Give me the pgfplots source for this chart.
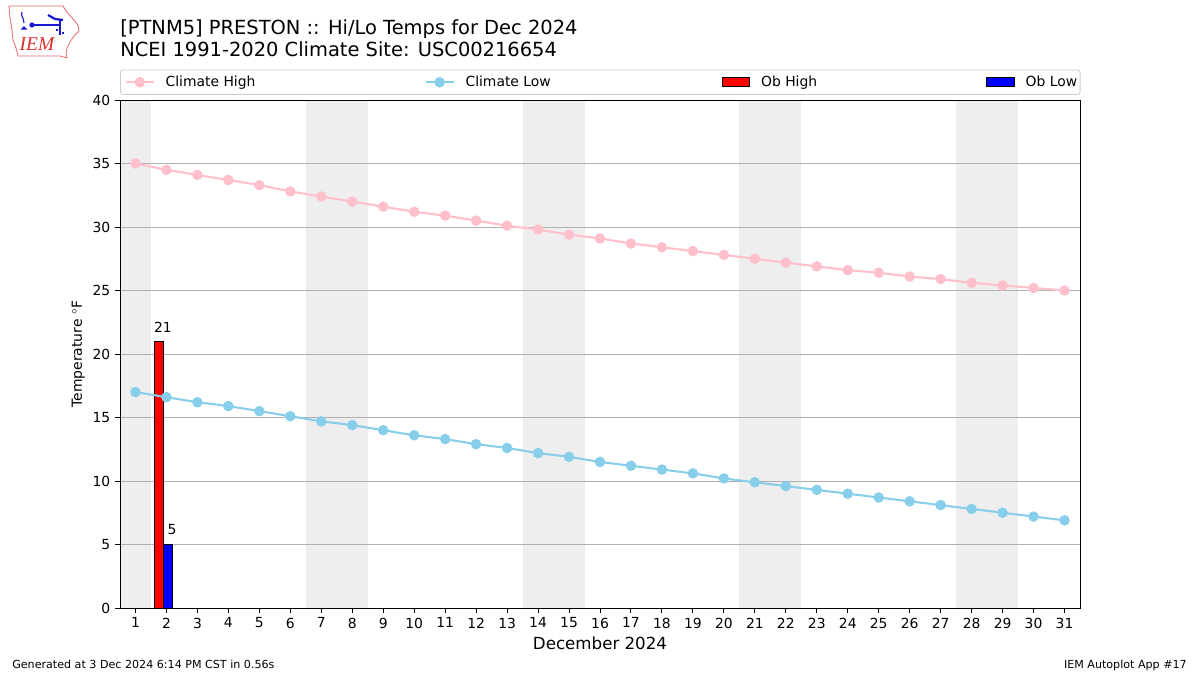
\documentclass[border=0pt]{standalone}
\usepackage{fontspec}
\setmainfont{DejaVu Sans}
\newfontfamily\logofont{Liberation Serif}
\usepackage{pgfplots}
\pgfplotsset{compat=1.18}

\definecolor{climhigh}{RGB}{255,192,203}
\definecolor{climlow}{RGB}{135,206,235}
\definecolor{weekend}{RGB}{238,238,238}
\definecolor{gridgray}{RGB}{176,176,176}
\definecolor{iemred}{RGB}{215,45,45}
\definecolor{iemblue}{RGB}{25,25,210}

% daily climate normals (NCEI 1991-2020)
\pgfplotstableread{
day high low
1  35.0 17.0
2  34.5 16.6
3  34.1 16.2
4  33.7 15.9
5  33.3 15.5
6  32.8 15.1
7  32.4 14.7
8  32.0 14.4
9  31.6 14.0
10 31.2 13.6
11 30.9 13.3
12 30.5 12.9
13 30.1 12.6
14 29.8 12.2
15 29.4 11.9
16 29.1 11.5
17 28.7 11.2
18 28.4 10.9
19 28.1 10.6
20 27.8 10.2
21 27.5 9.9
22 27.2 9.6
23 26.9 9.3
24 26.6 9.0
25 26.4 8.7
26 26.1 8.4
27 25.9 8.1
28 25.6 7.8
29 25.4 7.5
30 25.2 7.2
31 25.0 6.9
}\climate

\begin{document}
\begin{tikzpicture}
\path (0,0) rectangle (864pt,486pt);

% pixel coordinates, origin at top left
\begin{scope}[x=0.72pt, y=-0.72pt, shift={(0pt,486pt)}]
  % logo
  \draw[iemred!70, line width=0.6pt] (9,6) -- (63,6) -- (66,11) -- (72,18) -- (78,25)
      -- (79,31) -- (74,36) -- (70,42) -- (67,48) -- (66,54) -- (67,58) -- (60,56)
      -- (18,56) -- (16,48) -- (13,40) -- (12,30) -- (10,18) -- cycle;
  \draw[iemblue, line width=1.2pt] (32,25) -- (60,25);
  \fill[iemblue] (32,25) circle (2.6);
  \draw[iemblue, line width=1.6pt] (48,15) -- (55,19) -- (63,20);
  \draw[iemblue, line width=0.9pt] (60,20) -- (60,35) (56,30) -- (58,30) (62,33) -- (64,33);
  \draw[iemblue, line width=0.8pt] (22,12) .. controls (20,15) and (24,18) .. (24,23);
  \draw[iemblue, line width=0.8pt] (24,27) -- (26,29) -- (22,29) -- cycle;
  \node[iemred, font=\logofont\itshape\fontsize{14}{14}\selectfont, inner sep=0] at (37,44) {IEM};
  % titles
  \node[anchor=base west, inner sep=0, font=\fontsize{14}{17}\selectfont] at (120,35)
    {[PTNM5] PRESTON :: Hi/Lo Temps for Dec 2024};
  \node[anchor=base west, inner sep=0, font=\fontsize{14}{17}\selectfont] at (120,57)
    {NCEI 1991-2020 Climate Site: USC00216654};
  % footer
  \node[anchor=base west, inner sep=0, font=\fontsize{8}{10}\selectfont] at (12,669)
    {Generated at 3 Dec 2024 6:14 PM CST in 0.56s};
  \node[anchor=base east, inner sep=0, font=\fontsize{8}{10}\selectfont] at (1187,669)
    {IEM Autoplot App \#17};
\end{scope}

\begin{axis}[
    at={(86.4pt,48.24pt)}, anchor=south west,
    width=691.2pt, height=365.76pt, scale only axis,
    set layers,
    xmin=0.5, xmax=31.5, ymin=0, ymax=40,
    xtick={1,...,31}, ytick={0,5,...,40},
    tick align=outside, tick pos=left,
    major tick length=3.5pt,
    tick style={black, line width=0.7pt},
    axis line style={black, line width=0.7pt},
    ymajorgrids, grid style={gridgray, line width=0.7pt},
    /pgf/number format/assume math mode=true,
    tick label style={font=\fontsize{10}{12}\selectfont},
    xlabel={December 2024},
    xlabel style={font=\fontsize{12}{14}\selectfont, anchor=base, at={(axis description cs:0.5,-0.0826)}},
    ylabel={Temperature $^{\circ}$F},
    ylabel style={font=\fontsize{10}{12}\selectfont, anchor=base, at={(axis description cs:-0.0396,0.5)}},
    legend columns=4,
    legend style={at={(0,1)}, anchor=south west, yshift=3.6pt,
        draw=black!20, rounded corners=2pt, line width=0.6pt,
        inner xsep=3.2pt, inner ysep=4.3pt, column sep=0pt,
        nodes={inner sep=0pt, font=\fontsize{10}{12}\selectfont}},
    legend image code/.code={\draw[sharp corners, mark repeat=2, mark phase=2, #1] plot coordinates {(0pt,0pt) (10pt,0pt) (20pt,0pt)};},
]
\begin{pgfonlayer}{axis background}
  \fill[weekend] (axis cs:0.5,0) rectangle (axis cs:1.5,40);
  \fill[weekend] (axis cs:6.5,0) rectangle (axis cs:8.5,40);
  \fill[weekend] (axis cs:13.5,0) rectangle (axis cs:15.5,40);
  \fill[weekend] (axis cs:20.5,0) rectangle (axis cs:22.5,40);
  \fill[weekend] (axis cs:27.5,0) rectangle (axis cs:29.5,40);
\end{pgfonlayer}

\addlegendimage{climhigh, line width=1.5pt, mark=*, mark size=3pt, mark options={fill=climhigh, draw=climhigh}}
\addlegendentry{\hspace{7.9pt}\makebox[186.5pt][l]{Climate High}}
\addlegendimage{climlow, line width=1.5pt, mark=*, mark size=3pt, mark options={fill=climlow, draw=climlow}}
\addlegendentry{\hspace{7.9pt}\makebox[184.3pt][l]{Climate Low}}

\addplot[ybar, bar width=0.3, bar shift=0pt, fill=red, draw=black, line width=0.6pt,
    legend image code/.code={\draw[sharp corners, fill=red, draw=black, line width=0.6pt] (0pt,-3.2pt) rectangle (20pt,3.2pt);}]
    coordinates {(1.75,21)};
\addlegendentry{\hspace{7.9pt}\makebox[162pt][l]{Ob High}}
\addplot[ybar, bar width=0.3, bar shift=0pt, fill=blue, draw=black, line width=0.6pt,
    legend image code/.code={\draw[sharp corners, fill=blue, draw=black, line width=0.6pt] (0pt,-3.2pt) rectangle (20pt,3.2pt);}]
    coordinates {(2.05,5)};
\addlegendentry{\hspace{7.9pt}\makebox[36pt][l]{Ob Low}}

\addplot[climhigh, line width=1.5pt, mark=*, mark size=3pt, mark options={fill=climhigh, draw=climhigh}, forget plot]
    table[x=day, y=high] {\climate};
\addplot[climlow, line width=1.5pt, mark=*, mark size=3pt, mark options={fill=climlow, draw=climlow}, forget plot]
    table[x=day, y=low] {\climate};

\node[anchor=base west, inner sep=0, font=\fontsize{10}{12}\selectfont] at (axis cs:1.59,21.73) {21};
\node[anchor=base west, inner sep=0, font=\fontsize{10}{12}\selectfont] at (axis cs:2.03,5.75) {5};
\end{axis}
\end{tikzpicture}
\end{document}
